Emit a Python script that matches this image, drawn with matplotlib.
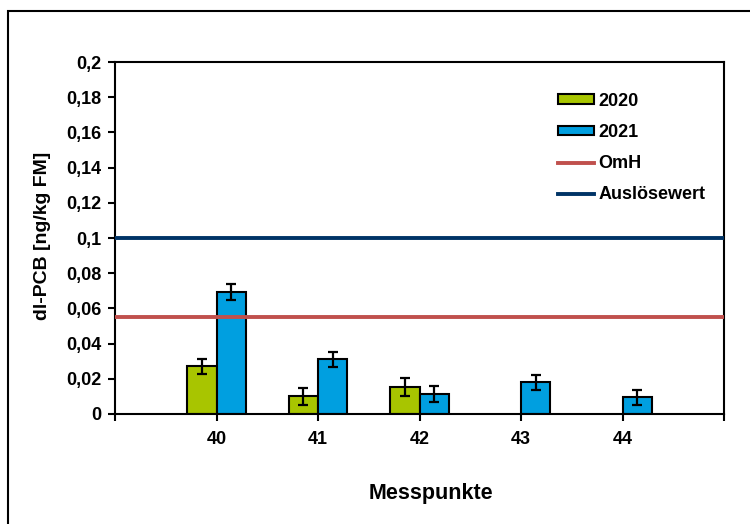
"""dl-PCB Messwerte je Messpunkt, 2020 und 2021, mit Grenzlinien."""
import numpy as np
import matplotlib
matplotlib.use("Agg")
import matplotlib.pyplot as plt
from matplotlib.patches import Rectangle
from matplotlib.lines import Line2D

plt.rcParams['font.family'] = ['Liberation Sans', 'DejaVu Sans']
plt.rcParams['font.weight'] = 'bold'

points = ["40", "41", "42", "43", "44"]
vals_2020 = [0.027, 0.010, 0.0155, np.nan, np.nan]
err_2020 = [0.0045, 0.005, 0.005, np.nan, np.nan]
vals_2021 = [0.0695, 0.031, 0.0115, 0.018, 0.0095]
err_2021 = [0.0045, 0.0045, 0.0045, 0.0043, 0.0044]
omh = 0.055
ausloesewert = 0.1
yticks = [0, 0.02, 0.04, 0.06, 0.08, 0.1, 0.12, 0.14, 0.16, 0.18, 0.2]
ytick_labels = ["0", "0,02", "0,04", "0,06", "0,08", "0,1", "0,12", "0,14", "0,16", "0,18", "0,2"]

GREEN = "#A8C500"
BLUE = "#009FE0"
RED = "#C0504D"
NAVY = "#003366"
FS = 13

fig = plt.figure(figsize=(7.5, 5.24), dpi=100)
ax = fig.add_axes([115 / 750, 110 / 524, 609 / 750, 352 / 524])

x = np.arange(len(points))
w = 0.29
ax.bar(x - w / 2, vals_2020, w, color=GREEN, edgecolor="black", linewidth=1.5, zorder=2)
ax.bar(x + w / 2, vals_2021, w, color=BLUE, edgecolor="black", linewidth=1.5, zorder=2)
ax.errorbar(x - w / 2, vals_2020, yerr=err_2020, fmt="none", ecolor="black",
            elinewidth=1.6, capsize=3.5, capthick=1.6, zorder=3)
ax.errorbar(x + w / 2, vals_2021, yerr=err_2021, fmt="none", ecolor="black",
            elinewidth=1.6, capsize=3.5, capthick=1.6, zorder=3)

ax.axhline(omh, color=RED, linewidth=2.8, zorder=4)
ax.axhline(ausloesewert, color=NAVY, linewidth=2.8, zorder=4)

ax.set_xlim(-1, len(points))
ax.set_ylim(0, 0.2)
ax.set_xticks(np.arange(-1, len(points) + 1))
ax.set_xticklabels([""] + points + [""], fontsize=FS, fontweight="bold")
ax.set_yticks(yticks)
ax.set_yticklabels(ytick_labels, fontsize=FS, fontweight="bold")
ax.tick_params(axis="both", direction="out", length=5, width=1.5, color="black")
ax.tick_params(axis="x", pad=7)
ax.tick_params(axis="y", pad=5)
for s in ax.spines.values():
    s.set_linewidth(1.5)
    s.set_color("black")

ax.set_ylabel("dl-PCB [ng/kg FM]", fontsize=14, fontweight="bold")
ax.yaxis.set_label_coords(-(115 - 43) / 609, (414 - 236) / 352)
ax.yaxis.label.set_verticalalignment("center")
ax.set_xlabel("Messpunkte", fontsize=15.5, fontweight="bold")
ax.xaxis.set_label_coords((431 - 115) / 609, -(493 - 414) / 352)
ax.xaxis.label.set_verticalalignment("center")

handles = [
    Rectangle((0, 0), 1, 1, facecolor=GREEN, edgecolor="black", linewidth=1.5),
    Rectangle((0, 0), 1, 1, facecolor=BLUE, edgecolor="black", linewidth=1.5),
    Line2D([], [], color=RED, linewidth=2.8),
    Line2D([], [], color=NAVY, linewidth=2.8),
]
ax.legend(handles, ["2020", "2021", "OmH", "Auslösewert"], loc="upper left",
          bbox_to_anchor=(0.70, 0.959), frameon=False,
          handlelength=2.0, handleheight=0.45, handletextpad=0.28, labelspacing=0.79,
          prop={"weight": "bold", "size": FS})

# outer chart frame
fig.add_artist(Rectangle((8 / 750, -0.1), 1.2, 1.1 - 11 / 524, transform=fig.transFigure,
                         fill=False, edgecolor="black", linewidth=1.5))

fig.savefig("out.png", dpi=100)
